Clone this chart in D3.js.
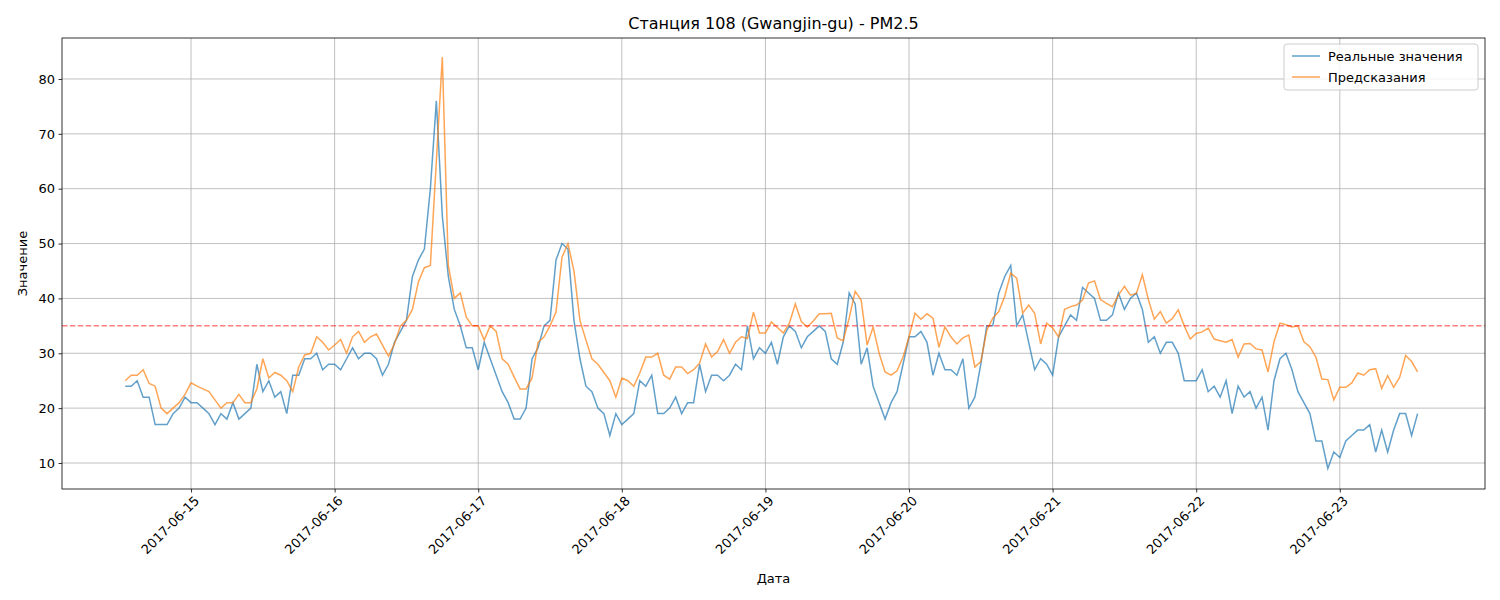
<!DOCTYPE html>
<html><head><meta charset="utf-8">
<script src="https://cdn.jsdelivr.net/npm/d3@7"></script>
<style>body{margin:0;background:#fff}svg{font-family:"DejaVu Sans",sans-serif}</style>
</head><body><svg id="chart" width="1500" height="600"></svg>
<script>
// hourly values starting 2017-06-14 13:00
var startTime = Date.UTC(2017, 5, 14, 13);
var actual = [
  24,24,25,22,22,17,17,17,19,20,22,21,21,20,19,17,19,18,21,18,19,20,28,23,25,22,23,19,26,26,
  29,29,30,27,28,28,27,29,31,29,30,30,29,26,28,32,34,36,44,47,49,60,76,55,44,38,35,31,31,27,
  32,29,26,23,21,18,18,20,29,31,35,36,47,50,49,36,29,24,23,20,19,15,19,17,18,19,25,24,26,19,
  19,20,22,19,21,21,28,23,26,26,25,26,28,27,35,29,31,30,32,28,33,35,34,31,33,34,35,34,29,28,
  32,41,39,28,31,24,21,18,21,23,28,33,33,34,32,26,30,27,27,26,29,20,22,28,35,35,41,44,46,35,
  37,32,27,29,28,26,33,35,37,36,42,41,40,36,36,37,41,38,40,41,38,32,33,30,32,32,30,25,25,25,
  27,23,24,22,25,19,24,22,23,20,22,16,25,29,30,27,23,21,19,14,14,9,12,11,14,15,16,16,17,12,16,12,16,19,19,15,19
];
var predicted = [
  25,26,26,27,24.5,24,20,19,20,21,22.5,24.6,24,23.5,23,21.5,20,21,21,22.5,21,21,23.5,29,25.5,26.5,26,25,23,27.5,
  29.7,30,33,32,30.6,31.5,32.5,30,33,34,32,33,33.5,31.5,29.5,31.7,35,36,38,43,45.6,46,65,84,46,40,41,36.6,35,35,
  32.4,35,34,29,28,25.7,23.5,23.5,25.5,32,33,35,37.5,47.5,50,45,36,32.4,29,28,26.5,25,22,25.5,25,24,26.4,29.3,29.3,30,
  26,25.3,27.5,27.5,26.3,27,28.2,31.7,29.3,30.3,32.5,30,32,33,32.7,37.5,33.7,33.7,35.7,34.7,33.7,35.5,39,35.8,34.8,35.9,37.2,37.2,37.3,32.8,
  32.3,36.4,41.3,39.7,31.5,34.8,30,26.6,26,26.8,29.3,33,37.3,36.2,37.2,36.4,31.1,34.8,33,31.7,32.8,33.3,27.5,28.5,34.2,36.4,37.6,40.4,44.6,43.7,
  37.3,38.8,37.3,31.7,35.5,34.6,33,38,38.5,38.8,39.7,42.8,43.2,39.8,39.1,38.5,40.6,42.2,40.6,40.9,44.3,39.8,36.2,37.6,35.5,36.3,37.9,35,32.6,33.6,
  33.9,34.6,32.6,32.3,32,32.5,29.3,31.7,31.8,30.8,30.6,26.6,32.1,35.5,35.2,34.8,35,32.1,31.2,29.3,25.3,25.2,21.5,23.8,23.8,24.6,26.4,26,27,27.2,23.6,25.9,23.8,25.6,29.6,28.5,26.6
];
var threshold = 35;
var yTicks = [10, 20, 30, 40, 50, 60, 70, 80];
var xTickDays = ["2017-06-15","2017-06-16","2017-06-17","2017-06-18","2017-06-19","2017-06-20","2017-06-21","2017-06-22","2017-06-23"];

var L = 62, R = 1485, T = 38, B = 489;
var svg = d3.select("#chart");
function t(i) { return new Date(startTime + i * 3600000); }

var x = d3.scaleUtc()
    .domain([new Date(Date.UTC(2017,5,14,2,26)), new Date(Date.UTC(2017,5,24,0,16))])
    .range([L, R]);
var y = d3.scaleLinear().domain([5.26, 87.47]).range([B, T]);

var tickDates = xTickDays.map(function(s){ return new Date(s + "T00:00:00Z"); });

// grid
svg.append("g").selectAll("line").data(tickDates).join("line")
    .attr("x1", d => x(d)).attr("x2", d => x(d)).attr("y1", T).attr("y2", B)
    .attr("stroke", "#b0b0b0").attr("stroke-width", 0.8);
svg.append("g").selectAll("line").data(yTicks).join("line")
    .attr("x1", L).attr("x2", R).attr("y1", d => y(d)).attr("y2", d => y(d))
    .attr("stroke", "#b0b0b0").attr("stroke-width", 0.8);

var line = d3.line().x((d, i) => x(t(i))).y(d => y(d));
svg.append("path").datum(actual).attr("d", line)
    .attr("fill", "none").attr("stroke", "#1f77b4").attr("stroke-opacity", 0.7).attr("stroke-width", 1.5);
svg.append("path").datum(predicted).attr("d", line)
    .attr("fill", "none").attr("stroke", "#ff7f0e").attr("stroke-opacity", 0.7).attr("stroke-width", 1.5);

svg.append("line").attr("x1", L).attr("x2", R).attr("y1", y(threshold)).attr("y2", y(threshold))
    .attr("stroke", "red").attr("stroke-opacity", 0.5).attr("stroke-width", 1.5).attr("stroke-dasharray", "5.5,2.4");

svg.append("rect").attr("x", L).attr("y", T).attr("width", R - L).attr("height", B - T)
    .attr("fill", "none").attr("stroke", "#000").attr("stroke-width", 0.8);

// axes
var yAxis = svg.append("g").attr("transform", "translate(" + L + ",0)")
    .call(d3.axisLeft(y).tickValues(yTicks).tickSize(3.5).tickPadding(3.5));
var xAxis = svg.append("g").attr("transform", "translate(0," + B + ")")
    .call(d3.axisBottom(x).tickValues(tickDates).tickSize(3.5).tickFormat(d3.utcFormat("%Y-%m-%d")));
[yAxis, xAxis].forEach(function(a){
  a.select(".domain").remove();
  a.selectAll("text").attr("font-size", 13).attr("fill", "#000").attr("font-family", "DejaVu Sans");
  a.selectAll("line").attr("stroke", "#000").attr("stroke-width", 0.8);
});
xAxis.selectAll("text").attr("text-anchor", "end").attr("dy", null)
    .attr("transform", "translate(4,8) rotate(-45)");

svg.append("text").attr("x", (L + R) / 2).attr("y", 29).attr("text-anchor", "middle")
    .attr("font-size", 16).text("Станция 108 (Gwangjin-gu) - PM2.5");
svg.append("text").attr("x", (L + R) / 2).attr("y", 583).attr("text-anchor", "middle")
    .attr("font-size", 13).text("Дата");
svg.append("text").attr("transform", "translate(27," + ((T + B) / 2) + ") rotate(-90)")
    .attr("text-anchor", "middle").attr("font-size", 13).text("Значение");

// legend
var lg = svg.append("g").attr("transform", "translate(1284,44)");
lg.append("rect").attr("width", 194).attr("height", 46).attr("rx", 3)
    .attr("fill", "#fff").attr("fill-opacity", 0.8).attr("stroke", "#ccc");
[["Реальные значения", "#1f77b4"], ["Предсказания", "#ff7f0e"]].forEach(function(d, i){
  var yy = 12 + i * 21;
  lg.append("line").attr("x1", 8).attr("x2", 36).attr("y1", yy).attr("y2", yy)
    .attr("stroke", d[1]).attr("stroke-opacity", 0.7).attr("stroke-width", 1.5);
  lg.append("text").attr("x", 44).attr("y", yy + 5).attr("font-size", 13).text(d[0]);
});
</script></body></html>
